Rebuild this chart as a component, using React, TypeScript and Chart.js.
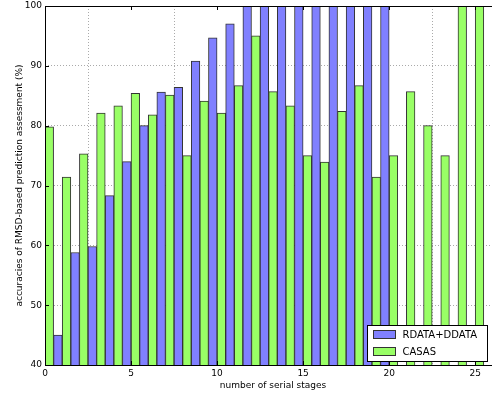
import React, { useEffect, useRef } from "react";
import { Chart, registerables } from "chart.js";

Chart.register(...registerables);

const stagesBlue = [1, 2, 3, 4, 5, 6, 7, 8, 9, 10, 11, 12, 13, 14, 15, 16, 17, 18, 19, 20];
const blueValues = [45.0, 58.8, 59.8, 68.3, 74.0, 80.0, 85.6, 86.4, 90.8, 94.7, 97.0, 100, 100, 100, 100, 100, 100, 100, 100, 100];
const stagesGreen = [0, 1, 2, 3, 4, 5, 6, 7, 8, 9, 10, 11, 12, 13, 14, 15, 16, 17, 18, 19, 20, 21, 22, 23, 24, 25];
const greenValues = [79.8, 71.4, 75.3, 82.1, 83.3, 85.4, 81.8, 85.1, 75.0, 84.1, 82.1, 86.7, 95.0, 85.7, 83.3, 75.0, 73.9, 82.4, 86.7, 71.4, 75.0, 85.7, 80.0, 75.0, 100, 100];
const xTicks = [0, 5, 10, 15, 20, 25];
const yTicks = [40, 50, 60, 70, 80, 90, 100];
const seriesNames = ["RDATA+DDATA", "CASAS"];

const BLUE = "#8080ff";
const GREEN = "#99ff66";
const EDGE = "#333333";
const FONT = "'DejaVu Sans', sans-serif";

const framePlugin = {
  id: "frameAndLegend",
  afterDraw(chart: any) {
    const { ctx, chartArea } = chart;
    const { left, right, top, bottom } = chartArea;
    ctx.save();
    ctx.strokeStyle = "#000";
    ctx.lineWidth = 1;
    ctx.beginPath();
    ctx.moveTo(left + 0.5, top + 0.5);
    ctx.lineTo(right, top + 0.5);
    ctx.moveTo(left + 0.5, top);
    ctx.lineTo(left + 0.5, bottom);
    ctx.moveTo(left, bottom + 0.5);
    ctx.lineTo(right, bottom + 0.5);
    ctx.stroke();
    const xs = chart.scales.x;
    const ys = chart.scales.y;
    ctx.beginPath();
    xTicks.forEach((v) => {
      const px = Math.round(xs.getPixelForValue(v)) + 0.5;
      ctx.moveTo(px, bottom);
      ctx.lineTo(px, bottom - 4);
      ctx.moveTo(px, top);
      ctx.lineTo(px, top + 4);
    });
    yTicks.forEach((v) => {
      const py = Math.round(ys.getPixelForValue(v)) + 0.5;
      ctx.moveTo(left, py);
      ctx.lineTo(left + 4, py);
    });
    ctx.stroke();
    // legend
    const bx = 367.5;
    const by = 325.5;
    const bw = 120;
    const bh = 36;
    ctx.fillStyle = "#fff";
    ctx.fillRect(bx, by, bw, bh);
    ctx.strokeStyle = "#000";
    ctx.strokeRect(bx, by, bw, bh);
    const colors = [BLUE, GREEN];
    ctx.font = "10px " + FONT;
    ctx.textBaseline = "middle";
    ctx.textAlign = "left";
    seriesNames.forEach((name, i) => {
      const py = by + 5 + i * 17;
      ctx.fillStyle = colors[i];
      ctx.fillRect(bx + 6, py, 22, 8);
      ctx.strokeStyle = EDGE;
      ctx.strokeRect(bx + 6, py, 22, 8);
      ctx.fillStyle = "#000";
      ctx.fillText(name, bx + 35, py + 4.5);
    });
    ctx.restore();
  },
};

export default function App() {
  const ref = useRef<HTMLCanvasElement>(null);
  useEffect(() => {
    if (!ref.current) return;
    const chart = new Chart(ref.current, {
      type: "bar",
      data: {
        datasets: [
          {
            label: seriesNames[0],
            data: stagesBlue.map((x, i) => ({ x, y: blueValues[i] })),
            backgroundColor: BLUE,
            borderColor: EDGE,
            borderWidth: 1,
            categoryPercentage: 1,
            barPercentage: 1,
          },
          {
            label: seriesNames[1],
            data: stagesGreen.map((x, i) => ({ x, y: greenValues[i] })),
            backgroundColor: GREEN,
            borderColor: EDGE,
            borderWidth: 1,
            categoryPercentage: 1,
            barPercentage: 1,
          },
        ],
      },
      options: {
        responsive: false,
        animation: false,
        devicePixelRatio: 1,
        layout: { padding: { left: 0, right: 1, top: 6, bottom: 0 } },
        plugins: { legend: { display: false }, tooltip: { enabled: false } },
        scales: {
          x: {
            type: "linear",
            min: 0,
            max: 26.5,
            offset: false,
            afterBuildTicks: (s: any) => {
              s.ticks = xTicks.map((v) => ({ value: v }));
            },
            afterFit: (s: any) => {
              s.height = 29;
              s.paddingLeft = 0;
              s.paddingRight = 0;
            },
            grid: { color: "#aaaaaa", drawTicks: false, lineWidth: 1 },
            border: { display: false, dash: [1, 2] },
            ticks: { color: "#000", font: { family: FONT, size: 9 }, padding: 3, maxRotation: 0 },
            title: {
              display: true,
              text: "number of serial stages",
              color: "#000",
              font: { family: FONT, size: 9 },
              padding: { top: 0, bottom: 3 },
            },
          },
          y: {
            type: "linear",
            min: 40,
            max: 100,
            afterBuildTicks: (s: any) => {
              s.ticks = yTicks.map((v) => ({ value: v }));
            },
            afterFit: (s: any) => {
              s.width = 45;
              s.paddingTop = 0;
              s.paddingBottom = 0;
            },
            grid: { color: "#aaaaaa", drawTicks: false, lineWidth: 1 },
            border: { display: false, dash: [1, 2] },
            ticks: { color: "#000", font: { family: FONT, size: 9 }, padding: 3 },
            title: {
              display: true,
              text: "accuracies of RMSD-based prediction assessment (%)",
              color: "#000",
              font: { family: FONT, size: 9 },
              padding: { top: 14, bottom: 0 },
            },
          },
        },
      },
      plugins: [framePlugin],
    } as any);
    return () => chart.destroy();
  }, []);
  return (
    <div style={{ position: "absolute", left: 0, top: 0, width: 492, height: 394, overflow: "hidden" }}>
      <canvas ref={ref} width={502} height={394} style={{ display: "block" }} />
    </div>
  );
}
